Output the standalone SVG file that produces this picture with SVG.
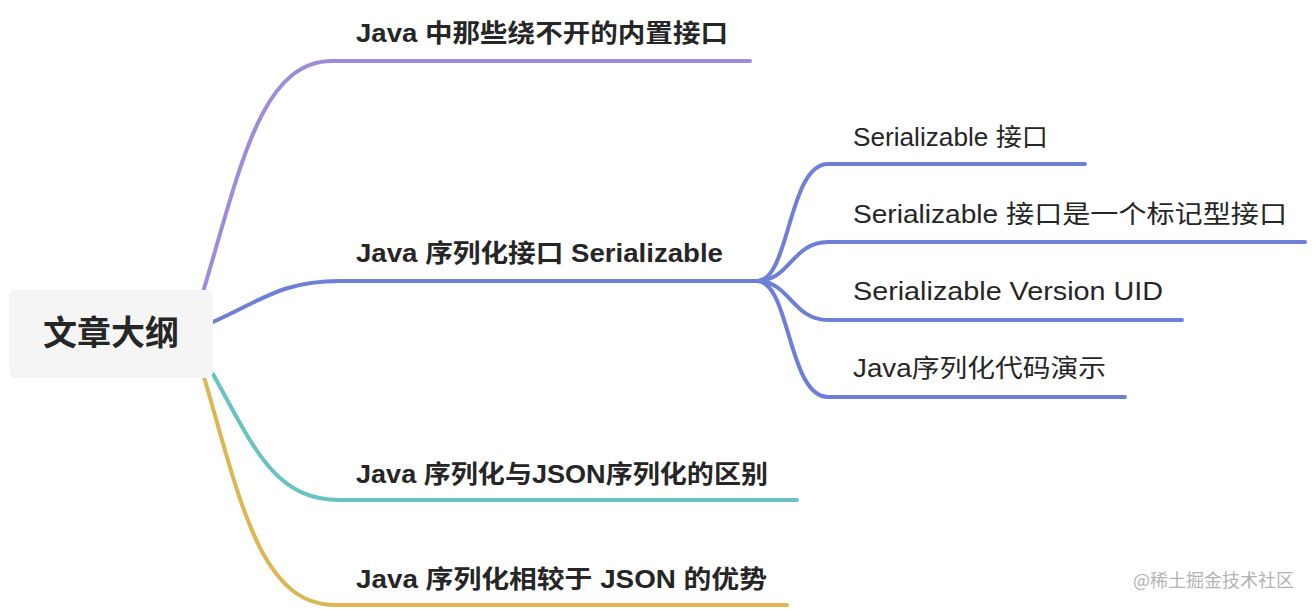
<svg xmlns="http://www.w3.org/2000/svg" width="1314" height="610" viewBox="0 0 1314 610">
<style>
.c{fill:none;stroke-width:4;stroke-linecap:round}
.p{stroke:#a08bdb}.b{stroke:#6d7fd6}.t{stroke:#68c3c1}.g{stroke:#dcb652}
.l1{font-family:"Liberation Sans","Noto Sans CJK SC",sans-serif;font-size:25px;font-weight:bold;fill:#262626}
.l2{font-family:"Liberation Sans","Noto Sans CJK SC",sans-serif;font-size:25px;fill:#262626}
.root{font-family:"Noto Sans CJK SC",sans-serif;font-size:34px;font-weight:bold;fill:#262626}
.wm{font-family:"Noto Sans CJK SC",sans-serif;font-size:18px;fill:#b3b3b3}
</style>
<rect width="1314" height="610" fill="#ffffff"/>
<g id="connectors">
<path class="c p" d="M203,292 C240,170 260,61 332,61 L750,61"/>
<path class="c b" d="M213,322 C262,300 282,281 340,281 L757,281"/>
<path class="c t" d="M213,374 C255,450 275,500 340,500 L797,500"/>
<path class="c g" d="M204,377 C240,500 260,605 335,605 L787,605"/>
<path class="c b" d="M757,281 C790,281 788,164 828,164 L1085,164"/>
<path class="c b" d="M757,281 C790,281 792,242 828,242 L1305,242"/>
<path class="c b" d="M757,281 C790,281 792,320 828,320 L1182,320"/>
<path class="c b" d="M757,281 C790,281 788,397 828,397 L1125,397"/>
</g>
<g id="root">
<rect x="9" y="290" width="204" height="88" rx="7" fill="#f5f5f5"/>
<text class="root" x="111" y="345" text-anchor="middle">文章大纲</text>
</g>
<g id="n1"><text class="l1" x="356" y="42" textLength="372" lengthAdjust="spacingAndGlyphs">Java 中那些绕不开的内置接口</text></g>
<g id="n2"><text class="l1" x="356" y="262" textLength="367" lengthAdjust="spacingAndGlyphs">Java 序列化接口 Serializable</text></g>
<g id="n3"><text class="l1" x="356" y="483" textLength="412" lengthAdjust="spacingAndGlyphs">Java 序列化与JSON序列化的区别</text></g>
<g id="n4"><text class="l1" x="356" y="588" textLength="411" lengthAdjust="spacingAndGlyphs">Java 序列化相较于 JSON 的优势</text></g>
<g id="s1"><text class="l2" x="853" y="146" textLength="195" lengthAdjust="spacingAndGlyphs">Serializable 接口</text></g>
<g id="s2"><text class="l2" x="853" y="223" textLength="434" lengthAdjust="spacingAndGlyphs">Serializable 接口是一个标记型接口</text></g>
<g id="s3"><text class="l2" x="853" y="300" textLength="310" lengthAdjust="spacingAndGlyphs">Serializable Version UID</text></g>
<g id="s4"><text class="l2" x="853" y="377" textLength="253" lengthAdjust="spacingAndGlyphs">Java序列化代码演示</text></g>
<text class="wm" x="1133" y="587">@稀土掘金技术社区</text>
</svg>
